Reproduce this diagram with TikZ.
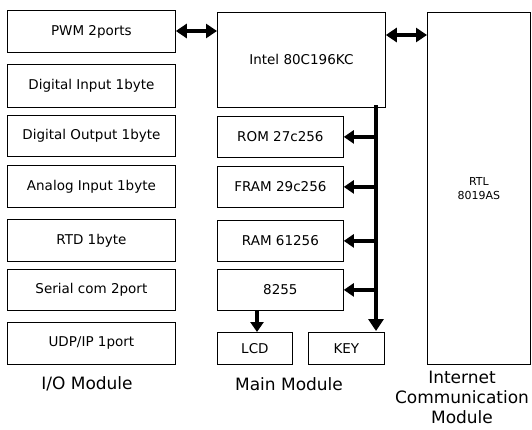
\documentclass[tikz,border=0pt]{standalone}
\usepackage{fontspec}
\setmainfont{DejaVu Sans}
\usetikzlibrary{arrows.meta}
\begin{document}
\begin{tikzpicture}[x=1pt,y=-1pt,
  box/.style={draw,line width=0.8pt,inner sep=0pt,font=\fontsize{13.5}{15}\selectfont},
  lbl/.style={font=\fontsize{17}{20}\selectfont,align=center},
  bus/.style={line width=4pt},
  brarrow/.style={line width=3.2pt,-{Triangle[length=10pt,width=13pt]}},
  dbl/.style={line width=4pt,{Triangle[length=11pt,width=14pt]}-{Triangle[length=11pt,width=14pt]}}
]
\useasboundingbox (0,0) rectangle (532,429);
% I/O module
\newcommand{\lbox}[4]{\node[box,minimum width=168pt,minimum height=#4pt,anchor=north west] (#1) at (7,#2) {#3};}
\lbox{pwm}{10}{PWM 2ports}{42}
\lbox{din}{64}{Digital Input 1byte}{43}
\lbox{dout}{115}{Digital Output 1byte}{41}
\lbox{ain}{165}{Analog Input 1byte}{42}
\lbox{rtd}{219}{RTD 1byte}{42}
\lbox{ser}{269}{Serial com 2port}{41}
\lbox{udp}{322}{UDP/IP 1port}{42}
\node[lbl] (iolbl) at (87,384) {I/O Module};
% Main module
\node[box,minimum width=168pt,minimum height=95pt,anchor=north west] (cpu) at (217,12) {Intel 80C196KC};
\newcommand{\mainbox}[4]{\node[box,minimum width=126pt,minimum height=#4pt,anchor=north west] (#1) at (217,#2) {#3};}
\mainbox{rom}{116}{ROM 27c256}{41}
\mainbox{fram}{166}{FRAM 29c256}{41}
\mainbox{ram}{220}{RAM 61256}{41}
\mainbox{ppi}{269}{8255}{41}
\node[box,minimum width=75pt,minimum height=32pt,anchor=north west] (lcd) at (217,332) {LCD};
\node[box,minimum width=76pt,minimum height=32pt,anchor=north west] (key) at (308,332) {KEY};
\node[lbl] (mainlbl) at (289,384) {Main Module};
% Internet module
\node[box,minimum width=103pt,minimum height=352pt,anchor=north west,align=center,font=\fontsize{11}{14}\selectfont] (rtl) at (427,12) {RTL\\8019AS};
\node[lbl] (netlbl) at (462,397) {Internet\\Communication\\Module};
% bus
\coordinate (bustop) at (376,105);
\coordinate (busbot) at (376,331);
\coordinate (busx) at (378,0);
\coordinate (lcdx) at (257,0);
\coordinate (y1) at (0,31);
\coordinate (y2) at (0,35);
\draw[bus,-{Triangle[length=12pt,width=15pt]}] (bustop) -- (busbot);
\foreach \n in {rom,fram,ram,ppi}{
  \draw[brarrow] (busx |- \n.east) -- (\n.east);
}
\draw[brarrow] (lcdx |- ppi.south) -- (lcdx |- lcd.north);
% double arrows
\draw[dbl] (pwm.east |- y1) -- (cpu.west |- y1);
\draw[dbl] (cpu.east |- y2) -- (rtl.west |- y2);
\end{tikzpicture}
\end{document}
